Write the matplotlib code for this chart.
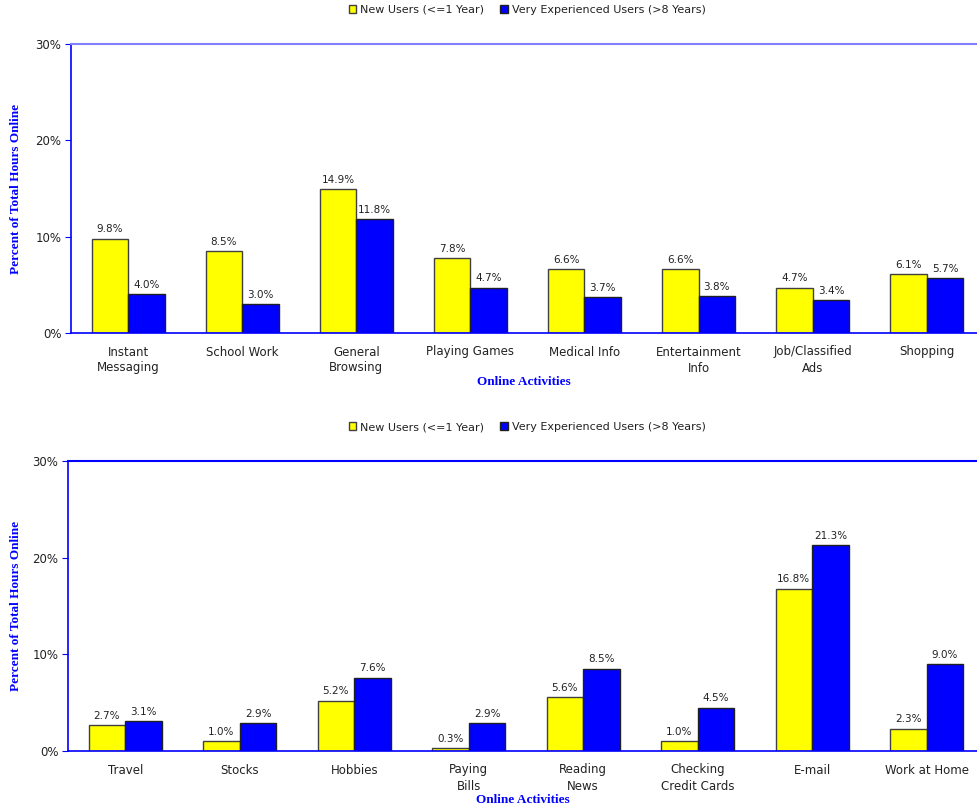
import numpy as np
import matplotlib.pyplot as plt

# data
top_categories = ['Instant\nMessaging', 'School Work', 'General\nBrowsing', 'Playing Games',
                  'Medical Info', 'Entertainment\nInfo', 'Job/Classified\nAds', 'Shopping']
top_new = [9.8, 8.5, 14.9, 7.8, 6.6, 6.6, 4.7, 6.1]
top_exp = [4.0, 3.0, 11.8, 4.7, 3.7, 3.8, 3.4, 5.7]

bottom_categories = ['Travel', 'Stocks', 'Hobbies', 'Paying\nBills', 'Reading\nNews',
                     'Checking\nCredit Cards', 'E-mail', 'Work at Home']
bottom_new = [2.7, 1.0, 5.2, 0.3, 5.6, 1.0, 16.8, 2.3]
bottom_exp = [3.1, 2.9, 7.6, 2.9, 8.5, 4.5, 21.3, 9.0]

yticks = [0, 10, 20, 30]
series_names = ['New Users (<=1 Year)', 'Very Experienced Users (>8 Years)']

W, H = 977, 811
fig = plt.figure(figsize=(W / 100, H / 100), dpi=100)

txt_color = '#222222'
serif = ['Liberation Serif', 'DejaVu Serif']


def draw_panel(rect, cats, new, exp, top_color, legend_y):
    ax = fig.add_axes(rect)
    x = np.arange(len(cats))
    w = 0.32
    b1 = ax.bar(x - w / 2, new, w, color='#ffff00', edgecolor='#404040', linewidth=1,
                label=series_names[0])
    b2 = ax.bar(x + w / 2, exp, w, color='#0000ff', edgecolor='#202020', linewidth=1,
                label=series_names[1])
    for bars, vals in ((b1, new), (b2, exp)):
        for r, v in zip(bars, vals):
            ax.text(r.get_x() + r.get_width() / 2, v + 0.45, f'{v:.1f}%', ha='center',
                    va='bottom', fontsize=7.5, color=txt_color)
    ax.set_ylim(0, 30)
    ax.set_xlim(-0.5, 7.44)
    ax.set_yticks(yticks)
    ax.set_yticklabels([f'{t}%' for t in yticks], fontsize=8.5, color=txt_color)
    ax.set_xticks(x)
    ax.set_xticklabels(cats, fontsize=8.5, color=txt_color, linespacing=1.3)
    ax.tick_params(axis='x', length=0, pad=9)
    ax.tick_params(axis='y', length=4, color='#0000ff', direction='out', pad=3)
    for s in ('left', 'bottom'):
        ax.spines[s].set_color('#0000ff')
        ax.spines[s].set_linewidth(1.2)
    ax.spines['top'].set_color(top_color)
    ax.spines['top'].set_linewidth(1.5)
    ax.spines['right'].set_visible(False)
    ax.set_ylabel('Percent of Total Hours Online', family=serif, fontweight='bold',
                  fontsize=9.5, color='#0000ff')
    ax.yaxis.set_label_coords(-(rect[0] * W - 22) / (rect[2] * W), 0.5)
    ax.set_xlabel('Online Activities', family=serif, fontweight='bold', fontsize=9.5,
                  color='#0000ff', labelpad=1)
    leg = fig.legend(handles=[b1, b2], loc='center', bbox_to_anchor=(527 / W, 1 - legend_y / H),
                     ncol=2, frameon=False, fontsize=8, handlelength=0.7, handleheight=0.7,
                     handletextpad=0.3, columnspacing=1.5)
    for t in leg.get_texts():
        t.set_color(txt_color)
    return ax


draw_panel([71 / W, 1 - 333 / H, (W - 71) / W, 289 / H], top_categories, top_new, top_exp,
           '#8080ff', 10)
draw_panel([68 / W, 1 - 751 / H, (W - 68) / W, 290 / H], bottom_categories, bottom_new,
           bottom_exp, '#0000ff', 427)

fig.savefig('out.png', dpi=100, facecolor='white')
